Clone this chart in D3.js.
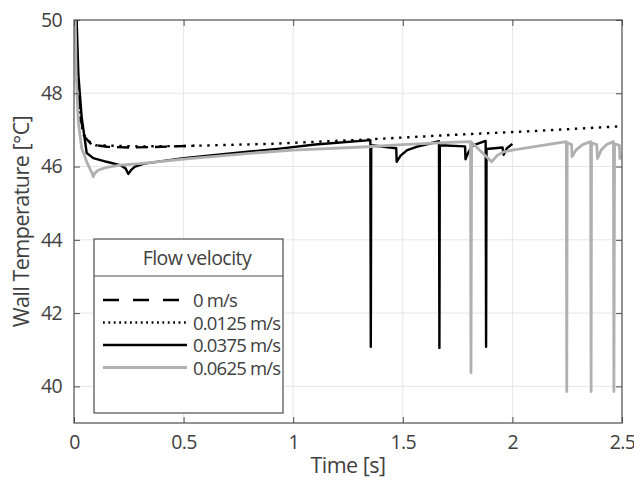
<!DOCTYPE html>
<html>
<head>
<meta charset="utf-8">
<script src="https://cdn.jsdelivr.net/npm/d3@7"></script>
<style>
body { margin: 0; background: #fff; }
svg text { font-family: "Open Sans", sans-serif; fill: #404040; }
</style>
</head>
<body>
<svg id="chart" width="634" height="484"></svg>
<script>
// axis ticks
var xTicks = [0, 0.5, 1, 1.5, 2, 2.5];
var yTicks = [40, 42, 44, 46, 48, 50];
var xTickLabels = ["0", "0.5", "1", "1.5", "2", "2.5"];

// legend
var seriesNames = ["0 m/s", "0.0125 m/s", "0.0375 m/s", "0.0625 m/s"];

// series: [time s, temperature C]
var v0 = [[0.004, 51], [0.015, 48.6], [0.03, 47.3], [0.05, 46.8], [0.08, 46.6], [0.15, 46.54],
    [0.25, 46.52], [0.35, 46.53], [0.45, 46.55], [0.55, 46.57]];
var v0125 = [[0.003, 51], [0.013, 48.6], [0.028, 47.3], [0.045, 46.85], [0.08, 46.62], [0.1, 46.58],
    [0.3, 46.55], [0.5, 46.56], [0.9, 46.62], [1.34, 46.74], [1.715, 46.86], [2.1, 46.97], [2.5, 47.1]];
var v0375 = [[0.007, 51], [0.02, 48.5], [0.035, 47.35], [0.058, 46.37], [0.088, 46.23], [0.149, 46.13],
    [0.21, 46.04], [0.235, 45.95], [0.248, 45.8], [0.26, 45.9], [0.278, 46.0], [0.32, 46.08],
    [0.5, 46.23], [0.803, 46.41], [0.94, 46.49], [1.1, 46.6], [1.352, 46.72], [1.354, 41.08],
    [1.356, 46.58], [1.47, 46.5], [1.472, 46.13], [1.49, 46.3], [1.52, 46.45], [1.563, 46.54],
    [1.665, 46.69], [1.667, 41.05], [1.669, 46.58], [1.784, 46.55], [1.786, 46.2], [1.8, 46.4],
    [1.82, 46.58], [1.878, 46.7], [1.88, 41.08], [1.882, 46.48], [1.955, 46.52], [1.96, 46.32],
    [1.975, 46.5], [2.0, 46.62]];
var v0625 = [[0.003, 51], [0.01, 48.5], [0.02, 47.2], [0.035, 46.5], [0.06, 46.1], [0.08, 45.85],
    [0.088, 45.72], [0.095, 45.82], [0.11, 45.9], [0.15, 45.98], [0.21, 46.04], [0.3, 46.08],
    [0.5, 46.2], [0.8, 46.36], [1.0, 46.45], [1.34, 46.54], [1.5, 46.6], [1.715, 46.66],
    [1.809, 46.68], [1.811, 40.37], [1.814, 46.66], [1.905, 46.13], [1.93, 46.3], [1.96, 46.4],
    [2.0, 46.45], [2.246, 46.68], [2.248, 39.86], [2.25, 46.65], [2.27, 46.6], [2.272, 46.27],
    [2.29, 46.45], [2.32, 46.6], [2.357, 46.68], [2.359, 39.86], [2.361, 46.65], [2.385, 46.6],
    [2.388, 46.22], [2.405, 46.45], [2.43, 46.6], [2.461, 46.68], [2.463, 39.86], [2.466, 46.62],
    [2.488, 46.58], [2.49, 46.22], [2.5, 46.3]];

var seriesData = [v0, v0125, v0375, v0625];
var seriesStyle = [
    { color: "#000", width: 2.4, dash: "12,7", legendDash: "16,14" },
    { color: "#000", width: 2.4, dash: "2.4,5.6", legendDash: "1.8,3.6" },
    { color: "#000", width: 2.4, dash: null, legendDash: null },
    { color: "#b0b0b0", width: 2.8, dash: null, legendDash: null }
];

(function () {
    var plotLeft = 74, plotRight = 622, plotTop = 20, plotBottom = 423;

    var svg = d3.select("#chart");

    var x = d3.scaleLinear().domain([0, 2.5]).range([plotLeft, plotRight]);
    var y = d3.scaleLinear().domain([39, 50]).range([plotBottom, plotTop]);

    // Grid
    var grid = svg.append("g");
    grid.selectAll("line.gx")
        .data(xTicks.slice(1, -1))
        .enter()
        .append("line")
        .attr("x1", function (d) { return x(d); })
        .attr("x2", function (d) { return x(d); })
        .attr("y1", plotTop)
        .attr("y2", plotBottom)
        .attr("stroke", "#e6e6e6");
    grid.selectAll("line.gy")
        .data(yTicks.slice(0, -1))
        .enter()
        .append("line")
        .attr("x1", plotLeft)
        .attr("x2", plotRight)
        .attr("y1", function (d) { return y(d); })
        .attr("y2", function (d) { return y(d); })
        .attr("stroke", "#e6e6e6");

    // Lines
    svg.append("clipPath")
        .attr("id", "clip")
        .append("rect")
        .attr("x", plotLeft)
        .attr("y", plotTop)
        .attr("width", plotRight - plotLeft)
        .attr("height", plotBottom - plotTop);

    var line = d3.line()
        .x(function (d) { return x(d[0]); })
        .y(function (d) { return y(d[1]); });

    svg.append("g")
        .attr("clip-path", "url(#clip)")
        .selectAll("path")
        .data(seriesData)
        .enter()
        .append("path")
        .attr("d", line)
        .attr("fill", "none")
        .attr("stroke", function (d, i) { return seriesStyle[i].color; })
        .attr("stroke-width", function (d, i) { return seriesStyle[i].width; })
        .attr("stroke-dasharray", function (d, i) { return seriesStyle[i].dash; })
        .attr("stroke-linejoin", "round");

    // Axes, ticks inward on all four sides
    var axisColor = "#4d4d4d";
    function styleAxis(g) {
        g.select(".domain").remove();
        g.selectAll(".tick line").attr("stroke", axisColor);
        g.selectAll(".tick text")
            .attr("fill", "#404040")
            .style("font-size", "19.5px")
            .style("letter-spacing", "-0.6px")
            .style("font-family", "'Open Sans', sans-serif");
    }

    svg.append("g")
        .attr("transform", "translate(0," + plotBottom + ")")
        .call(d3.axisBottom(x).tickValues(xTicks)
            .tickFormat(function (d, i) { return xTickLabels[i]; })
            .tickSizeInner(-6).tickSizeOuter(0).tickPadding(12))
        .call(styleAxis);
    svg.append("g")
        .attr("transform", "translate(0," + plotTop + ")")
        .call(d3.axisTop(x).tickValues(xTicks).tickSizeInner(-6).tickSizeOuter(0).tickFormat(""))
        .call(styleAxis);
    svg.append("g")
        .attr("transform", "translate(" + plotLeft + ",0)")
        .call(d3.axisLeft(y).tickValues(yTicks).tickSizeInner(-6).tickSizeOuter(0).tickPadding(12))
        .call(styleAxis);
    svg.append("g")
        .attr("transform", "translate(" + plotRight + ",0)")
        .call(d3.axisRight(y).tickValues(yTicks).tickSizeInner(-6).tickSizeOuter(0).tickFormat(""))
        .call(styleAxis);

    svg.append("rect")
        .attr("x", plotLeft)
        .attr("y", plotTop)
        .attr("width", plotRight - plotLeft)
        .attr("height", plotBottom - plotTop)
        .attr("fill", "none")
        .attr("stroke", axisColor)
        .attr("stroke-width", 1.2);

    // Axis labels
    svg.append("text")
        .attr("x", (plotLeft + plotRight) / 2)
        .attr("y", 473)
        .attr("text-anchor", "middle")
        .style("font-size", "21.5px")
        .style("letter-spacing", "-0.5px")
        .text("Time [s]");

    svg.append("text")
        .attr("transform", "translate(29," + (plotTop + plotBottom) / 2 + ") rotate(-90)")
        .attr("text-anchor", "middle")
        .style("font-size", "21.5px")
        .style("letter-spacing", "-0.5px")
        .text("Wall Temperature [\u00B0C]");

    // Legend
    var lg = svg.append("g");
    lg.append("rect")
        .attr("x", 94)
        .attr("y", 239)
        .attr("width", 189)
        .attr("height", 174)
        .attr("fill", "#fff")
        .attr("stroke", axisColor)
        .attr("stroke-width", 1.2);
    lg.append("line")
        .attr("x1", 94)
        .attr("x2", 283)
        .attr("y1", 276)
        .attr("y2", 276)
        .attr("stroke", axisColor)
        .attr("stroke-width", 1.2);
    lg.append("text")
        .attr("x", 197)
        .attr("y", 265)
        .attr("text-anchor", "middle")
        .style("font-size", "19.5px")
        .style("letter-spacing", "-0.5px")
        .text("Flow velocity");

    var entries = lg.selectAll("g.entry")
        .data(seriesNames)
        .enter()
        .append("g")
        .attr("transform", function (d, i) { return "translate(0," + (300 + i * 22.5) + ")"; });
    entries.append("line")
        .attr("x1", 103)
        .attr("x2", 187)
        .attr("stroke", function (d, i) { return seriesStyle[i].color; })
        .attr("stroke-width", function (d, i) { return seriesStyle[i].width; })
        .attr("stroke-dasharray", function (d, i) { return seriesStyle[i].legendDash; });
    entries.append("text")
        .attr("x", 193)
        .attr("y", 7)
        .style("font-size", "18.5px")
        .style("letter-spacing", "-0.8px")
        .text(function (d) { return d; });
})();
</script>
</body>
</html>
